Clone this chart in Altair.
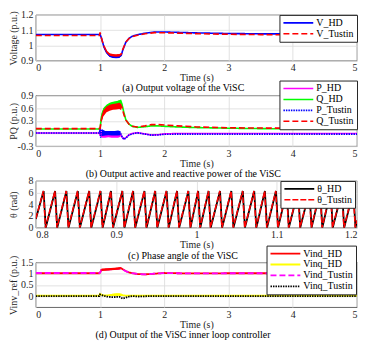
import altair as alt
import pandas as pd

FONT = "Liberation Serif, Times New Roman, serif"
W = 323
INK = "#262626"

# ---------------- (a) output voltage ----------------
t_a = [0, 0.99, 1.0, 1.02, 1.04, 1.06, 1.1, 1.15, 1.2, 1.25, 1.3, 1.33, 1.35, 1.4, 1.45,
       1.5, 1.6, 1.7, 1.85, 2.0, 2.5, 3.0, 3.5, 4.0, 4.5, 5.0]
v_hd = [1.072, 1.072, 1.072, 1.05, 1.02, 0.99, 0.955, 0.932, 0.925, 0.924, 0.926, 0.935, 0.965,
        1.02, 1.046, 1.06, 1.072, 1.08, 1.088, 1.088, 1.082, 1.078, 1.076, 1.075, 1.073, 1.072]
v_tustin = [1.065, 1.065, 1.085, 1.05, 1.02, 0.995, 0.96, 0.94, 0.935, 0.934, 0.936, 0.942, 0.97,
            1.022, 1.045, 1.058, 1.068, 1.076, 1.084, 1.083, 1.077, 1.073, 1.071, 1.069, 1.068, 1.067]
band_t_a = [1.06, 1.1, 1.15, 1.2, 1.25, 1.3, 1.33]
vhd_lo = [0.982, 0.947, 0.924, 0.917, 0.916, 0.918, 0.93]
vhd_hi = [0.998, 0.963, 0.94, 0.933, 0.932, 0.934, 0.94]
vtu_lo = [0.987, 0.952, 0.932, 0.927, 0.926, 0.928, 0.936]
vtu_hi = [1.003, 0.968, 0.948, 0.943, 0.942, 0.944, 0.948]

# ---------------- (b) active / reactive power ----------------
t_b = [0, 0.99, 1.0, 1.01, 1.02, 1.04, 1.07, 1.12, 1.17, 1.22, 1.27, 1.32, 1.34, 1.37, 1.4,
       1.45, 1.5, 1.58, 1.7, 1.8, 1.9, 2.0, 2.2, 2.5, 3.0, 3.5, 4.0, 4.5, 5.0]
p_hd = [0.01, 0.01, -0.05, 0.1, -0.08, 0.02, -0.03, -0.04, -0.03, -0.04, -0.03, -0.02, -0.08,
        -0.13, -0.1, -0.03, 0.0, 0.02, -0.01, -0.035, -0.03, -0.01, 0.0, 0.0, 0.0, 0.0, 0.0, 0.0, 0.0]
q_hd = [0.105, 0.105, 0.12, 0.25, 0.38, 0.5, 0.6, 0.67, 0.71, 0.73, 0.75, 0.78, 0.7, 0.5, 0.33,
        0.22, 0.17, 0.145, 0.16, 0.18, 0.18, 0.17, 0.155, 0.14, 0.125, 0.115, 0.11, 0.105, 0.105]
p_tustin = [0.01, 0.01, 0.12, -0.1, 0.08, 0.0, 0.01, 0.0, 0.01, 0.0, 0.01, 0.0, -0.07, -0.14,
            -0.11, -0.04, -0.01, 0.015, -0.015, -0.04, -0.035, -0.02, -0.015, -0.015, -0.015,
            -0.015, -0.015, -0.015, -0.015]
q_tustin = [0.115, 0.115, 0.12, 0.22, 0.33, 0.45, 0.55, 0.6, 0.63, 0.65, 0.66, 0.68, 0.62, 0.45,
            0.32, 0.22, 0.17, 0.155, 0.18, 0.21, 0.21, 0.2, 0.18, 0.155, 0.135, 0.128, 0.125,
            0.122, 0.12]
band_t_bq = [1.02, 1.05, 1.1, 1.15, 1.2, 1.25, 1.3, 1.33]
qhd_lo = [0.3, 0.45, 0.55, 0.6, 0.63, 0.65, 0.67, 0.65]
qhd_hi = [0.45, 0.6, 0.68, 0.73, 0.75, 0.76, 0.78, 0.78]
qtu_lo = [0.25, 0.4, 0.5, 0.54, 0.56, 0.57, 0.58, 0.55]
qtu_hi = [0.4, 0.55, 0.64, 0.68, 0.7, 0.71, 0.73, 0.7]
band_t_bp = [1.03, 1.08, 1.13, 1.18, 1.23, 1.28, 1.32]
phd_lo = [-0.1, -0.1, -0.09, -0.1, -0.1, -0.1, -0.08]
phd_hi = [0.05, 0.02, 0.02, 0.02, 0.02, 0.03, 0.02]
ptu_lo = [-0.06, -0.05, -0.04, -0.05, -0.05, -0.05, -0.04]
ptu_hi = [0.1, 0.06, 0.06, 0.06, 0.06, 0.07, 0.05]

# ---------------- (c) phase angle ----------------
theta_peaks_hd = [0.8097, 0.8240, 0.8381, 0.8523, 0.8665, 0.8806, 0.8936, 0.9078, 0.9212,
                  0.9353, 0.9487, 0.9629, 0.9759, 0.9900, 1.0022, 1.0152, 1.0294, 1.0435,
                  1.0578, 1.0720, 1.0853, 1.0991, 1.1125, 1.1267, 1.1408, 1.1542, 1.1672,
                  1.1814, 1.1955]
theta_peaks_tustin = [0.8094, 0.8237, 0.8378, 0.8520, 0.8662, 0.8803, 0.8933, 0.9075, 0.9209,
                      0.9350, 0.9484, 0.9626, 0.9756, 0.9897, 1.0019, 1.0149, 1.0291, 1.0432,
                      1.0575, 1.0717, 1.0850, 1.0988, 1.1122, 1.1264, 1.1405, 1.1539, 1.1669,
                      1.1811, 1.1952]
theta_start = [1.5, 1.55]
theta_end = [1.2, 1.25]
theta_max = 6.28
theta_fall = 0.0026

# ---------------- (d) inner loop controller output ----------------
t_d = [0, 0.99, 1.0, 1.02, 1.05, 1.1, 1.15, 1.2, 1.25, 1.3, 1.32, 1.35, 1.4, 1.45, 1.5, 1.6,
       1.7, 1.8, 2.0, 2.2, 2.5, 3.0, 4.0, 5.0]
vind_hd = [1.02, 1.02, 1.05, 1.17, 1.18, 1.19, 1.2, 1.21, 1.22, 1.25, 1.26, 1.2, 1.12, 1.06,
           1.02, 0.98, 0.97, 0.99, 1.03, 1.02, 1.01, 1.02, 1.02, 1.02]
vinq_hd = [0.02, 0.02, 0.1, 0.06, 0.03, 0.03, 0.04, 0.06, 0.08, 0.09, 0.08, 0.04, 0.02, 0.02,
           0.02, 0.02, 0.02, 0.02, 0.02, 0.02, 0.02, 0.02, 0.02, 0.02]
vind_tustin = [1.03, 1.03, 1.05, 1.16, 1.17, 1.18, 1.19, 1.2, 1.21, 1.23, 1.24, 1.19, 1.11, 1.05,
               1.02, 0.98, 0.97, 0.99, 1.03, 1.02, 1.01, 1.02, 1.02, 1.03]
vinq_tustin = [0.0, 0.0, 0.07, 0.05, 0.02, -0.02, -0.04, -0.05, -0.04, -0.03, -0.06, -0.11, -0.07,
               -0.02, 0.0, -0.02, -0.01, 0.0, 0.0, 0.0, 0.0, 0.0, 0.0, 0.0]
band_t_d = [1.02, 1.07, 1.12, 1.17, 1.22, 1.27, 1.32]
vind_lo = [1.12, 1.13, 1.14, 1.15, 1.16, 1.18, 1.19]
vind_hi = [1.22, 1.23, 1.24, 1.25, 1.26, 1.28, 1.29]
band_t_dq = [1.15, 1.2, 1.25, 1.3, 1.35]
vinq_lo = [0.0, 0.0, 0.0, 0.0, 0.0]
vinq_hi = [0.08, 0.1, 0.11, 0.1, 0.06]


def long_df(t_lists, series):
    rows = []
    for (name, vals), t in zip(series, t_lists):
        for i, (ti, v) in enumerate(zip(t, vals)):
            rows.append({"t": ti, "v": v, "s": name, "o": i})
    return pd.DataFrame(rows)


def saw(peaks, start, end):
    t = [0.8]
    v = [start]
    for p in peaks:
        t += [p, p + theta_fall]
        v += [theta_max, 0.0]
    t.append(1.2)
    v.append(end)
    return t, v


LABEL_EXPR = "replace(format(datum.value, '~g'), '\u2212', '-')"


def panel(df, names, colors, dashes, widths, bands, xdom, xvals, ydom, yvals,
          ytitle, caption, h, legend_x, legend_y):
    xscale = alt.Scale(domain=xdom, nice=False, zero=False)
    yscale = alt.Scale(domain=ydom, nice=False, zero=False)
    xaxis = alt.Axis(values=xvals, title="Time (s)", labelExpr=LABEL_EXPR,
                     labelOverlap=False, labelPadding=2, titlePadding=0)
    yaxis = alt.Axis(values=yvals, title=ytitle, labelExpr=LABEL_EXPR,
                     labelOverlap=False, labelPadding=3, titleX=-17, titleY=h / 2)
    leg = alt.Legend(orient="none", legendX=legend_x, legendY=legend_y, title=None,
                     symbolType="M-1,0H6.5", symbolSize=64, symbolStrokeWidth=2,
                     labelOffset=24, padding=3, rowPadding=1, labelFont=FONT,
                     labelFontSize=10, labelColor="black", fillColor="white",
                     strokeColor=INK, labelLimit=200)
    lines = alt.Chart(df).mark_line(clip=True).encode(
        x=alt.X("t:Q", scale=xscale, axis=xaxis),
        y=alt.Y("v:Q", scale=yscale, axis=yaxis),
        order="o:Q",
        color=alt.Color("s:N", scale=alt.Scale(domain=names, range=colors), legend=leg),
        strokeDash=alt.StrokeDash("s:N", scale=alt.Scale(domain=names, range=dashes), legend=leg),
        strokeWidth=alt.StrokeWidth("s:N", scale=alt.Scale(domain=names, range=widths), legend=None),
    )
    layers = [lines]
    for bt, lo, hi, col in bands:
        bdf = pd.DataFrame({"t": bt, "lo": lo, "hi": hi})
        layers.append(alt.Chart(bdf).mark_area(color=col, opacity=1, clip=True).encode(
            x=alt.X("t:Q", scale=xscale, axis=xaxis),
            y=alt.Y("lo:Q", scale=yscale, axis=yaxis),
            y2="hi:Q"))
    return alt.layer(*layers).properties(
        width=W, height=h,
        title=alt.TitleParams(caption, orient="bottom", anchor="middle", frame="bounds",
                              font=FONT, fontSize=10, fontWeight="normal", color="black",
                              offset=1),
    )


# panel a
df_a = long_df([t_a, t_a], [("V_HD", v_hd), ("V_Tustin", v_tustin)])
pa = panel(df_a, ["V_HD", "V_Tustin"], ["#0000ff", "#ff0000"], [[1, 0], [6, 3]], [1.6, 1.6],
           [(band_t_a, vhd_lo, vhd_hi, "#0000ff"), (band_t_a, vtu_lo, vtu_hi, "#ff0000")],
           [0, 5], [0, 1, 2, 3, 4, 5], [0.9, 1.2], [0.9, 1.0, 1.1, 1.2],
           "Voltage (p.u.)", "(a) Output voltage of the ViSC", 46, W - 78, 0)

# panel b
df_b = long_df([t_b] * 4, [("P_HD", p_hd), ("Q_HD", q_hd), ("P_Tustin", p_tustin), ("Q_Tustin", q_tustin)])
pb = panel(df_b, ["P_HD", "Q_HD", "P_Tustin", "Q_Tustin"],
           ["#ff00ff", "#00ff00", "#0000ff", "#ff0000"], [[1, 0], [1, 0], [1.5, 1], [6, 3]],
           [1.6, 1.6, 1.8, 1.6],
           [(band_t_bq, qhd_lo, qhd_hi, "#00ff00"), (band_t_bq, qtu_lo, qtu_hi, "#ff0000"),
            (band_t_bp, phd_lo, phd_hi, "#ff00ff"), (band_t_bp, ptu_lo, ptu_hi, "#0000ff")],
           [0, 5], [0, 1, 2, 3, 4, 5], [-0.3, 0.9], [-0.3, 0, 0.3, 0.6, 0.9],
           "PQ (p.u.)", "(b) Output active and reactive power of the ViSC", 51, W - 78, -15)

# panel c
tc_hd, vc_hd = saw(theta_peaks_hd, theta_start[0], theta_end[0])
tc_tu, vc_tu = saw(theta_peaks_tustin, theta_start[1], theta_end[1])
df_c = long_df([tc_hd, tc_tu], [("θ_HD", vc_hd), ("θ_Tustin", vc_tu)])
pc = panel(df_c, ["θ_HD", "θ_Tustin"], ["#000000", "#ff0000"], [[1, 0], [6, 2]], [1.8, 1.5], [],
           [0.8, 1.2], [0.8, 0.9, 1.0, 1.1, 1.2], [0, 8], [0, 2, 4, 6, 8],
           "θ (rad)", "(c) Phase angle of the ViSC", 47, W - 77, 0)

# panel d
df_d = long_df([t_d] * 4, [("Vind_HD", vind_hd), ("Vinq_HD", vinq_hd),
                           ("Vind_Tustin", vind_tustin), ("Vinq_Tustin", vinq_tustin)])
pd_ = panel(df_d, ["Vind_HD", "Vinq_HD", "Vind_Tustin", "Vinq_Tustin"],
            ["#ff0000", "#ffff00", "#ff00ff", "#000000"], [[1, 0], [1, 0], [6, 3], [1.5, 1]],
            [1.8, 1.8, 1.6, 2.2],
            [(band_t_d, vind_lo, vind_hi, "#ff0000"), (band_t_dq, vinq_lo, vinq_hi, "#ffff00")],
            [0, 5], [0, 1, 2, 3, 4, 5], [-0.5, 1.5], [0, 0.5, 1.0, 1.5],
            "Vinv_ref (p.u.)", "(d) Output of the ViSC inner loop controller", 45, W - 91, -17)

chart = alt.vconcat(pa, pb, pc, pd_, spacing=35, bounds="flush").resolve_scale(
    color="independent", strokeDash="independent", strokeWidth="independent",
    x="independent", y="independent"
).resolve_legend(color="independent", strokeDash="independent").properties(
    padding={"left": 0, "top": 0, "right": 0, "bottom": 0}
).configure_view(
    stroke=INK, strokeWidth=0.7
).configure_axis(
    grid=True, gridColor="#dadada", gridWidth=0.8, domain=False, ticks=False,
    labelFont=FONT, labelFontSize=10, labelColor=INK,
    titleFont=FONT, titleFontSize=10, titleFontWeight="normal", titleColor=INK,
)

chart.save("out.html", embed_options={"renderer": "svg", "actions": False})
